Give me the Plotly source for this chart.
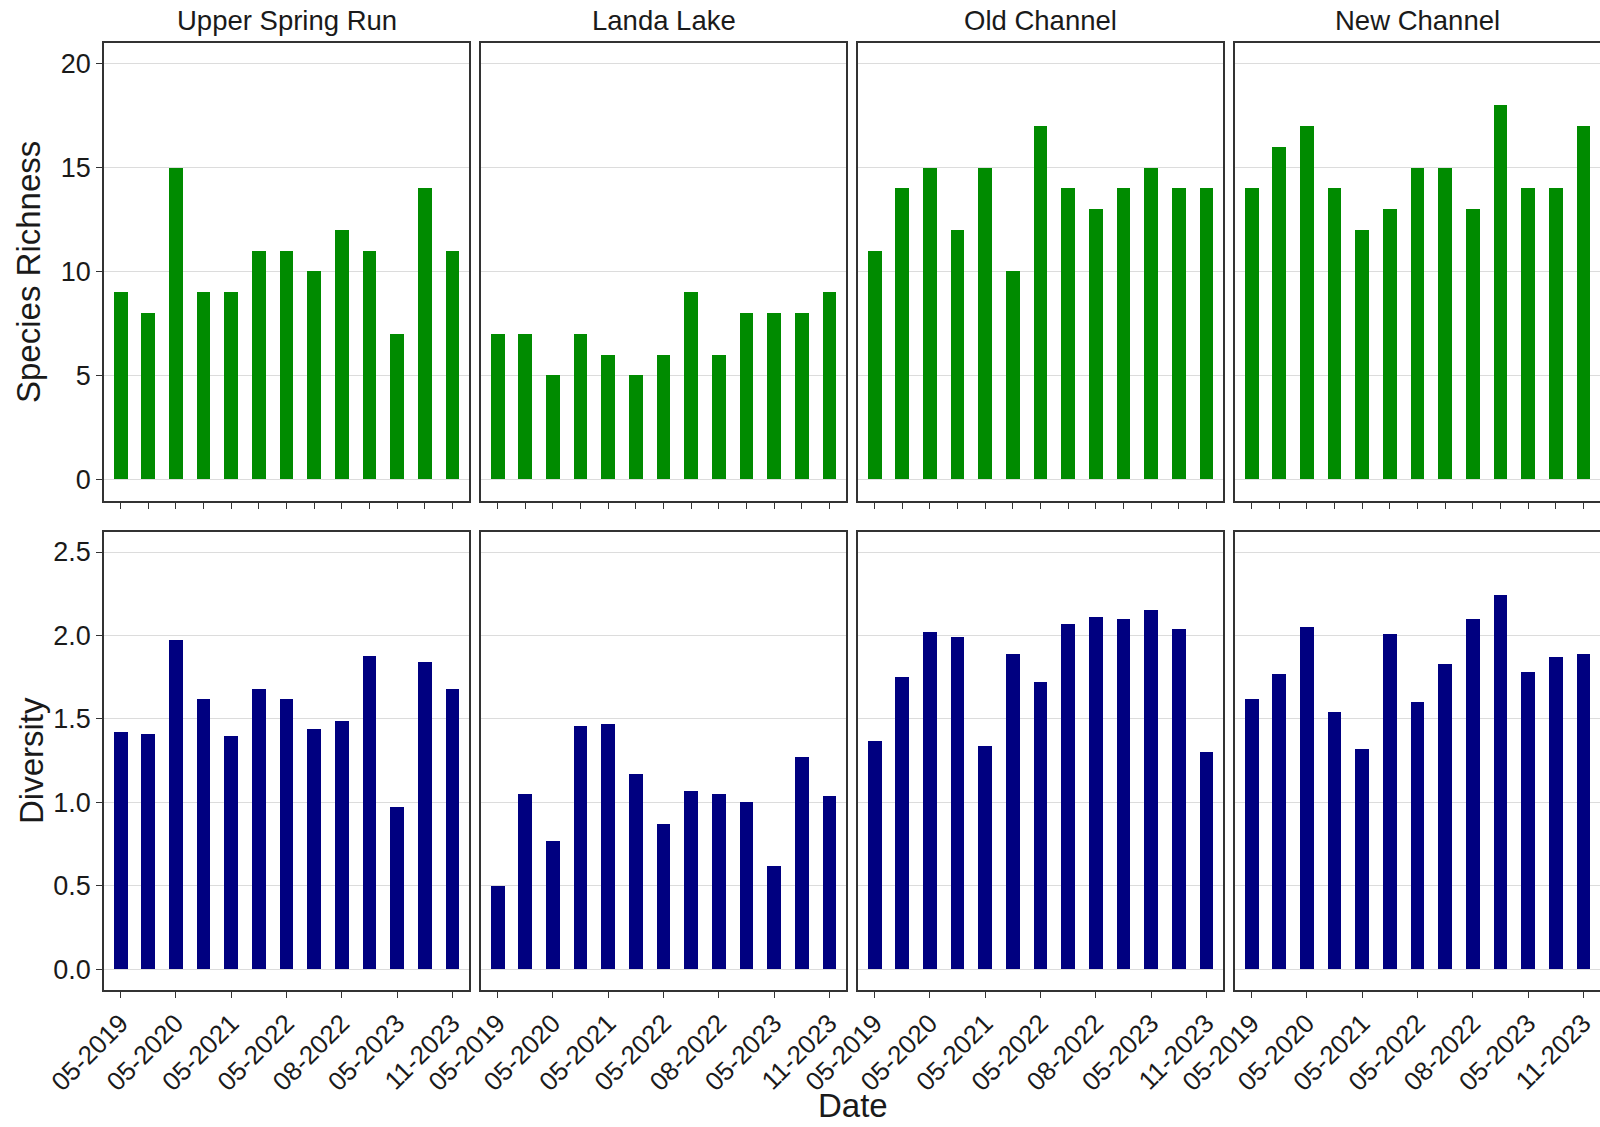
import plotly.graph_objects as go

# ---------------- data ----------------
sites = ["Upper Spring Run", "Landa Lake", "Old Channel", "New Channel"]
positions = list(range(1, 14))  # 13 sampling events, in date order
tick_positions = [1, 3, 5, 7, 9, 11, 13]
tick_labels = ["05-2019", "05-2020", "05-2021", "05-2022", "08-2022", "05-2023", "11-2023"]

richness_upper = [9, 8, 15, 9, 9, 11, 11, 10, 12, 11, 7, 14, 11]
richness_landa = [7, 7, 5, 7, 6, 5, 6, 9, 6, 8, 8, 8, 9]
richness_old = [11, 14, 15, 12, 15, 10, 17, 14, 13, 14, 15, 14, 14]
richness_new = [14, 16, 17, 14, 12, 13, 15, 15, 13, 18, 14, 14, 17]

diversity_upper = [1.42, 1.41, 1.97, 1.62, 1.40, 1.68, 1.62, 1.44, 1.49, 1.88, 0.97, 1.84, 1.68]
diversity_landa = [0.50, 1.05, 0.77, 1.46, 1.47, 1.17, 0.87, 1.07, 1.05, 1.00, 0.62, 1.27, 1.04]
diversity_old = [1.37, 1.75, 2.02, 1.99, 1.34, 1.89, 1.72, 2.07, 2.11, 2.10, 2.15, 2.04, 1.30]
diversity_new = [1.62, 1.77, 2.05, 1.54, 1.32, 2.01, 1.60, 1.83, 2.10, 2.24, 1.78, 1.87, 1.89]

richness = [richness_upper, richness_landa, richness_old, richness_new]
diversity = [diversity_upper, diversity_landa, diversity_old, diversity_new]

richness_ticks = [0, 5, 10, 15, 20]
diversity_ticks = [0.0, 0.5, 1.0, 1.5, 2.0, 2.5]
diversity_ticktext = ["0.0", "0.5", "1.0", "1.5", "2.0", "2.5"]

GREEN = "#008B00"
NAVY = "#000080"
BORDER = "#333333"
GRID = "#DCDCDC"
FONT = "Liberation Sans, Arial, sans-serif"
TXT = "#1a1a1a"

# ---------------- layout geometry (pixels) ----------------
W, H = 1600, 1127
ML, MR, MT, MB = 104, 0, 43, 137
PW = W - ML - MR
PH = H - MT - MB
panel_w, gap = 365, 12
top_row = (43, 501)
bot_row = (532, 990)


def xpx(p):
    return (p - ML) / PW


def ypx(p):
    return (H - MB - p) / PH


fig = go.Figure()
layout = dict(
    width=W, height=H,
    margin=dict(l=ML, r=MR, t=MT, b=MB, pad=0),
    plot_bgcolor="white", paper_bgcolor="white",
    showlegend=False, bargap=0,
    font=dict(family=FONT, color=TXT),
)

annotations = []
for r in range(2):
    for c in range(4):
        k = r * 4 + c + 1
        xs = "x" if k == 1 else f"x{k}"
        ys = "y" if k == 1 else f"y{k}"
        vals = richness[c] if r == 0 else diversity[c]
        color = GREEN if r == 0 else NAVY
        fig.add_trace(go.Bar(
            x=positions, y=vals, width=0.5, marker=dict(color=color, line=dict(width=0)),
            xaxis=xs, yaxis=ys, hoverinfo="x+y",
        ))
        x0 = ML + c * (panel_w + gap)
        x1 = min(x0 + panel_w, W)
        rowpx = top_row if r == 0 else bot_row
        last_col = c == 3
        xa = dict(
            domain=[xpx(x0), xpx(x1)], anchor=ys, range=[0.4, 13.6],
            showgrid=False, zeroline=False,
            showline=True, linecolor=BORDER, linewidth=1.5, mirror=True,
            ticks="outside", ticklen=6, tickcolor=BORDER, tickwidth=1.3,
        )
        if r == 0:
            xa.update(tickmode="array", tickvals=positions, showticklabels=False)
        else:
            xa.update(tickmode="array", tickvals=tick_positions, ticktext=tick_labels,
                      tickangle=-45, tickfont=dict(size=26, color=TXT, family=FONT))
        ya = dict(
            domain=[ypx(rowpx[1]), ypx(rowpx[0])], anchor=xs,
            showgrid=True, gridcolor=GRID, gridwidth=1.3, zeroline=False,
            showline=True, linecolor=BORDER, linewidth=1.5,
            mirror=False if last_col else True,
            tickmode="array",
        )
        if r == 0:
            ya.update(range=[-1.05, 21.0], tickvals=richness_ticks)
        else:
            ya.update(range=[-0.124, 2.62], tickvals=diversity_ticks, ticktext=diversity_ticktext)
        if c == 0:
            ya.update(ticks="outside", ticklen=6, tickcolor=BORDER, tickwidth=1.3,
                      tickfont=dict(size=27, color=TXT, family=FONT))
        else:
            ya.update(ticks="", showticklabels=False)
        layout["xaxis" if k == 1 else f"xaxis{k}"] = xa
        layout["yaxis" if k == 1 else f"yaxis{k}"] = ya

        if r == 0:
            annotations.append(dict(
                text=sites[c], x=xpx((x0 + x0 + panel_w) / 2), y=ypx(20.5),
                xref="paper", yref="paper", xanchor="center", yanchor="middle",
                showarrow=False, font=dict(size=27.5, color=TXT, family=FONT),
            ))

annotations += [
    dict(text="Species Richness", x=xpx(29), y=ypx(sum(top_row) / 2), xref="paper", yref="paper",
         textangle=-90, showarrow=False, xanchor="center", yanchor="middle",
         font=dict(size=33, color=TXT, family=FONT)),
    dict(text="Diversity", x=xpx(31), y=ypx(sum(bot_row) / 2), xref="paper", yref="paper",
         textangle=-90, showarrow=False, xanchor="center", yanchor="middle",
         font=dict(size=33, color=TXT, family=FONT)),
    dict(text="Date", x=xpx(853), y=ypx(1126), xref="paper", yref="paper",
         showarrow=False, xanchor="center", yanchor="bottom",
         font=dict(size=33, color=TXT, family=FONT)),
]
layout["annotations"] = annotations
fig.update_layout(**layout)
fig.write_html(
    "out.html",
    config={"displayModeBar": False},
    post_script="document.body.style.margin='0';document.body.style.overflow='hidden';",
)
